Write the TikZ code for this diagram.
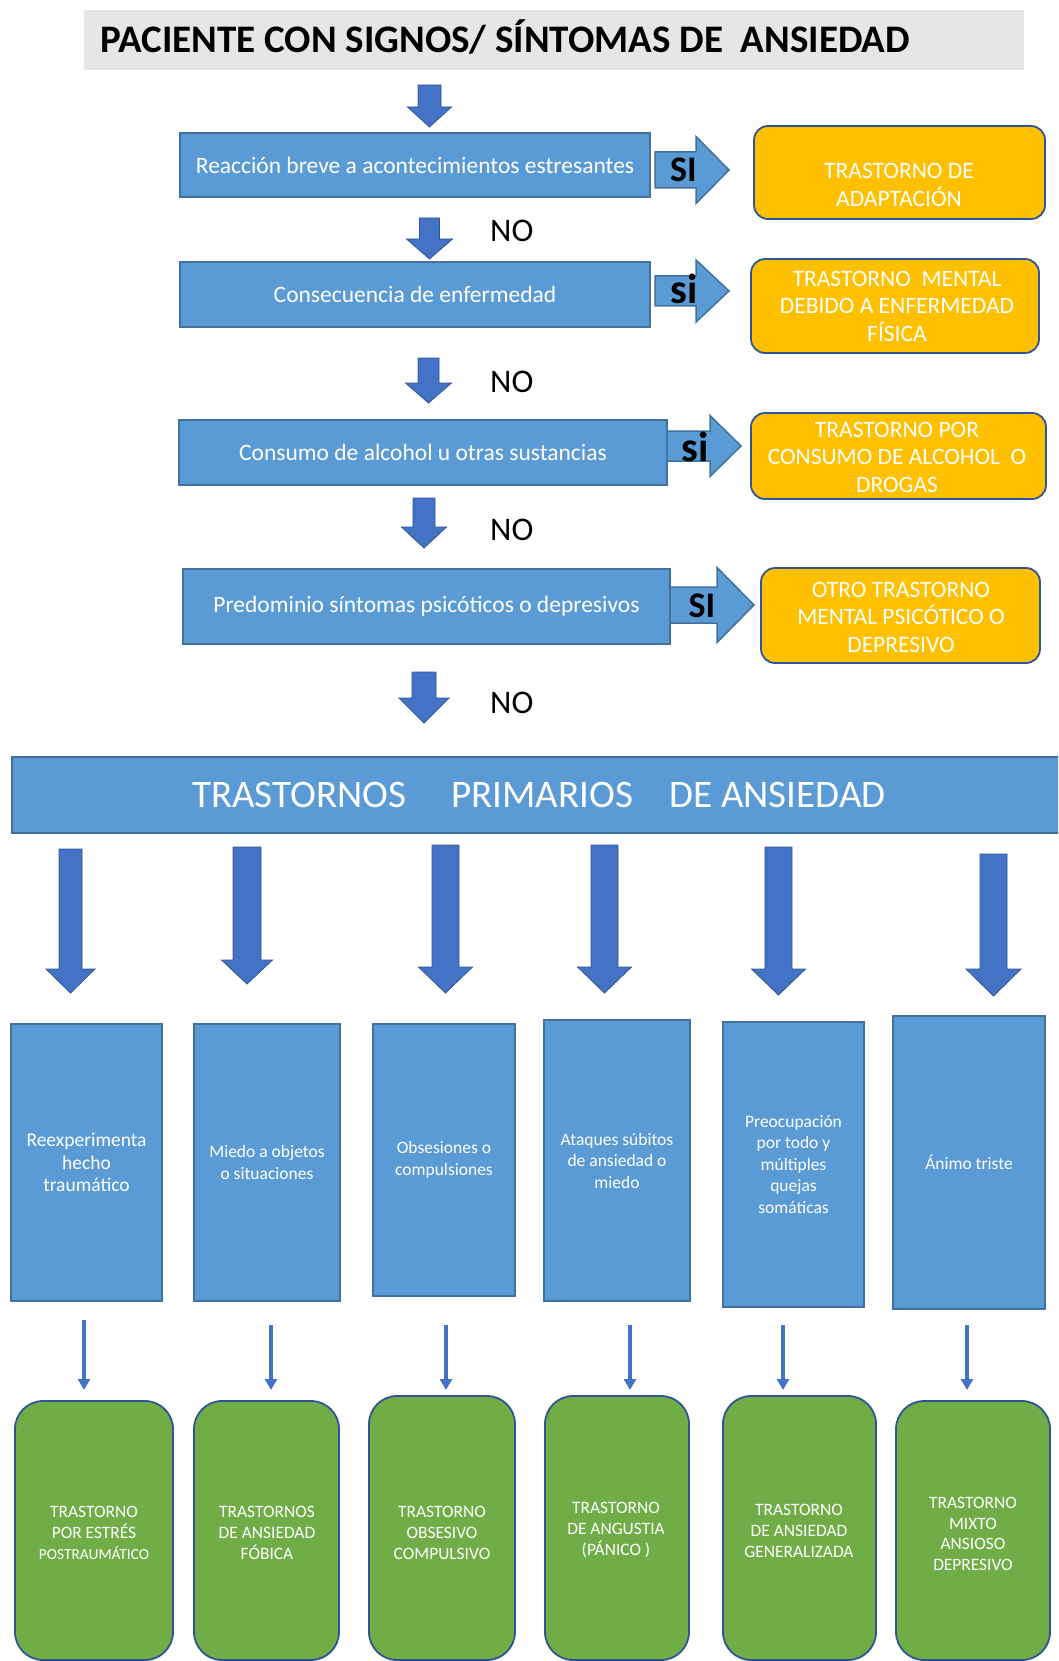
\documentclass[tikz,border=0pt]{standalone}
\usepackage{fontspec}
\setmainfont{Carlito}
\usetikzlibrary{arrows.meta}
\definecolor{boxblue}{HTML}{5B9BD5}
\definecolor{boxedge}{HTML}{41719C}
\definecolor{arrblue}{HTML}{4472C4}
\definecolor{darkedge}{HTML}{2F5597}
\definecolor{gold}{HTML}{FFC000}
\definecolor{leaf}{HTML}{70AD47}
\definecolor{titlegray}{HTML}{E7E6E6}
\newcommand\fsz[2]{\fontsize{#1}{#2}\selectfont}
\newcommand\blockdown[6]{% cx, top, shaft half, head half, head start, tip
  \draw[blockarrow] (#1-#3,#2) -- (#1+#3,#2) -- (#1+#3,#5) -- (#1+#4,#5) -- (#1,#6) -- (#1-#4,#5) -- (#1-#3,#5) -- cycle;}
\newcommand\blockright[6]{% x0, cy, shaft half, head half, head start, tip
  \draw[siarrow] (#1,#2-#3) -- (#5,#2-#3) -- (#5,#2-#4) -- (#6,#2) -- (#5,#2+#4) -- (#5,#2+#3) -- (#1,#2+#3) -- cycle;}
\begin{document}
\begin{tikzpicture}[x=1pt,y=-1pt,
  titlebox/.style={fill=titlegray, draw=none, inner sep=0pt},
  bluebox/.style={draw=boxedge, fill=boxblue, line width=1.8pt, text=white, inner sep=0pt, align=center, font=\fsz{23.5}{28}},
  tallbox/.style={draw=boxedge, fill=boxblue, line width=1.8pt, text=white, inner sep=0pt, align=center, font=\fsz{17.5}{21.5}},
  goldbox/.style={draw=darkedge, fill=gold, line width=1.8pt, rounded corners=14pt, inner sep=0pt},
  goldtext/.style={text=white, align=center, inner sep=0pt, font=\fsz{23.5}{27.5}},
  greenbox/.style={draw=darkedge, fill=leaf, line width=1.8pt, rounded corners=28pt, inner sep=0pt},
  greentext/.style={text=white, align=center, inner sep=0pt, font=\fsz{17.4}{20.7}},
  blockarrow/.style={draw=darkedge, fill=arrblue, line width=0.8pt},
  siarrow/.style={draw=boxedge, fill=boxblue, line width=1.5pt},
  sitext/.style={anchor=base, inner sep=0pt, font=\fsz{36}{40}\bfseries},
  sismall/.style={anchor=base, inner sep=0pt, font=\fsz{42}{46}\bfseries},
  notext/.style={anchor=base west, inner sep=0pt, font=\fsz{33}{38}},
  thinarrow/.style={draw=arrblue, line width=3.5pt, -{Triangle[width=12pt,length=11pt]}}
]
\useasboundingbox (0,0) rectangle (1058,1661);
\clip (0,0) rectangle (1058,1661);

% title
\node[titlebox, minimum width=940pt, minimum height=60pt] (title) at (554,40) {};
\node[anchor=base west, inner sep=0pt, font=\fsz{39}{44}\bfseries] (titletext) at (100,53) {PACIENTE CON SIGNOS/ SÍNTOMAS DE\ \ ANSIEDAD};

% decision boxes
\node[bluebox, minimum width=470pt, minimum height=64pt] (b1) at (415,165) {Reacción breve a acontecimientos estresantes};
\node[bluebox, minimum width=470pt, minimum height=65pt] (b2) at (415,294.5) {Consecuencia de enfermedad};
\node[bluebox, minimum width=488pt, minimum height=65pt] (b3) at (423,452.5) {Consumo de alcohol u otras sustancias};
\node[bluebox, minimum width=487pt, minimum height=75pt] (b4) at (426.5,606.5) {Predominio síntomas psicóticos o depresivos};

% down block arrows (top)
\blockdown{429.5}{85}{11.5}{22}{107}{127}
\blockdown{429.5}{218}{10}{23}{239}{259}
\blockdown{428.5}{358}{10.5}{23}{383}{403}
\blockdown{424}{498}{11}{22.5}{527}{548}
\blockdown{424}{672}{12}{25}{698}{723}

\node[notext] (no1) at (490,242) {NO};
\node[notext] (no2) at (490,392) {NO};
\node[notext] (no3) at (490,540) {NO};
\node[notext] (no4) at (490,713) {NO};

% right block arrows
\blockright{655}{170}{18}{33.5}{696}{729}
\blockright{655}{291}{15}{31}{696}{729}
\blockright{667}{446}{15}{30.5}{710}{741}
\blockright{670}{605}{18}{37.5}{717}{754}

\node[sitext] (si1) at (683.5,182) {SI};
\node[sismall] (si2) at (684,304) {si};
\node[sismall] (si3) at (695,461) {si};
\node[sitext] (si4) at (702,617) {SI};

% outcome boxes
\node[goldbox, minimum width=291pt, minimum height=93pt] (o1) at (899.5,172.5) {};
\node[goldtext] (o1t) at (899,185) {TRASTORNO DE\\ADAPTACIÓN};
\node[goldbox, minimum width=288pt, minimum height=94pt] (o2) at (895,306) {};
\node[goldtext] (o2t) at (897,306) {TRASTORNO\ \ MENTAL\\DEBIDO A ENFERMEDAD\\FÍSICA};
\node[goldbox, minimum width=295pt, minimum height=86pt] (o3) at (898.5,456) {};
\node[goldtext] (o3t) at (897,457) {TRASTORNO POR\\CONSUMO DE ALCOHOL\ \ O\\DROGAS};
\node[goldbox, minimum width=279pt, minimum height=95pt] (o4) at (900.5,615.5) {};
\node[goldtext] (o4t) at (901,617) {OTRO TRASTORNO\\MENTAL PSICÓTICO O\\DEPRESIVO};

% banner
\node[bluebox, anchor=north west, minimum width=1070pt, minimum height=76pt] (banner) at (11,756) {};
\node[anchor=base west, inner sep=0pt, text=white, font=\fsz{39}{44}] (bannertext) at (192,807) {TRASTORNOS\hspace{45pt}PRIMARIOS\hspace{36pt}DE ANSIEDAD};

% big down arrows
\blockdown{70.5}{849}{11.5}{24.5}{969}{993}
\blockdown{247}{847}{14}{25.5}{960}{984}
\blockdown{445.5}{845}{13.5}{27}{967}{993}
\blockdown{604.5}{845}{13.5}{27}{967}{993}
\blockdown{778.5}{847}{13.5}{27}{969}{995}
\blockdown{993.5}{854}{13.5}{27.5}{969}{996}

% symptom boxes
\node[tallbox, minimum width=151pt, minimum height=277pt, font=\fsz{19.5}{22.5}] (t1) at (86.5,1162.5) {Reexperimenta\\hecho\\traumático};
\node[tallbox, minimum width=146pt, minimum height=277pt] (t2) at (267,1162.5) {Miedo a objetos\\o situaciones};
\node[tallbox, minimum width=142pt, minimum height=272pt] (t3) at (444,1160) {Obsesiones o\\compulsiones};
\node[tallbox, minimum width=146pt, minimum height=281pt] (t4) at (617,1160.5) {Ataques súbitos\\de ansiedad o\\miedo};
\node[tallbox, minimum width=141pt, minimum height=285pt] (t5) at (793.5,1164.5) {Preocupación\\por todo y\\múltiples\\quejas\\somáticas};
\node[tallbox, minimum width=152pt, minimum height=293pt] (t6) at (969,1162.5) {Ánimo triste};

% thin arrows
\coordinate (a1s) at (84,1320);  \coordinate (a1e) at (84,1390);
\coordinate (a2s) at (271,1325); \coordinate (a2e) at (271,1390);
\coordinate (a3s) at (446,1325); \coordinate (a3e) at (446,1390);
\coordinate (a4s) at (630,1325); \coordinate (a4e) at (630,1390);
\coordinate (a5s) at (783,1325); \coordinate (a5e) at (783,1390);
\coordinate (a6s) at (967,1325); \coordinate (a6e) at (967,1390);
\draw[thinarrow] (a1s) -- (a1e);
\draw[thinarrow] (a2s) -- (a2e);
\draw[thinarrow] (a3s) -- (a3e);
\draw[thinarrow] (a4s) -- (a4e);
\draw[thinarrow] (a5s) -- (a5e);
\draw[thinarrow] (a6s) -- (a6e);

% diagnosis boxes
\node[greenbox, minimum width=158pt, minimum height=259pt] (g1) at (94,1530.5) {};
\node[greenbox, minimum width=145pt, minimum height=259pt] (g2) at (266.5,1530.5) {};
\node[greenbox, minimum width=146pt, minimum height=264pt] (g3) at (442,1528) {};
\node[greenbox, minimum width=144pt, minimum height=264pt] (g4) at (617,1528) {};
\node[greenbox, minimum width=153pt, minimum height=264pt] (g5) at (799.5,1528) {};
\node[greenbox, minimum width=154pt, minimum height=259pt] (g6) at (973,1530.5) {};
\node[greentext] (g1t) at (94,1533) {TRASTORNO\\POR ESTRÉS\\{\fsz{15.4}{20.7}POSTRAUMÁTICO}};
\node[greentext] (g2t) at (267,1533) {TRASTORNOS\\DE ANSIEDAD\\FÓBICA};
\node[greentext] (g3t) at (442,1533) {TRASTORNO\\OBSESIVO\\COMPULSIVO};
\node[greentext] (g4t) at (616,1530) {TRASTORNO\\DE ANGUSTIA\\(PÁNICO )};
\node[greentext] (g5t) at (799,1531) {TRASTORNO\\DE ANSIEDAD\\GENERALIZADA};
\node[greentext] (g6t) at (973,1534) {TRASTORNO\\MIXTO\\ANSIOSO\\DEPRESIVO};
\end{tikzpicture}
\end{document}
